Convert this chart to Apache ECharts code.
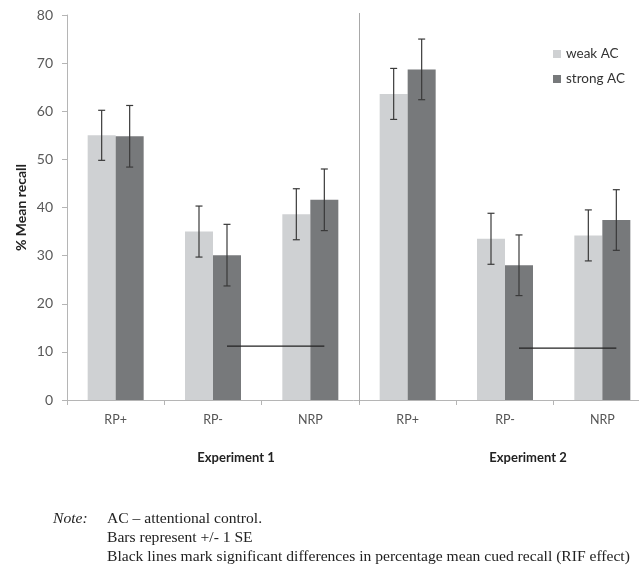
<!DOCTYPE html>
<html><head><meta charset="utf-8">
<script src="https://cdn.jsdelivr.net/npm/echarts@6/dist/echarts.min.js"></script>
<style>html,body{margin:0;padding:0;background:#fff}#c{width:639px;height:574px}</style>
</head><body><div id="c"></div>
<script>
const categories = ['RP+', 'RP-', 'NRP', 'RP+', 'RP-', 'NRP'];
const groups = ['Experiment 1', 'Experiment 2'];
const yTicks = [0, 10, 20, 30, 40, 50, 60, 70, 80];
const weakAC = [55.0, 35.0, 38.6, 63.6, 33.5, 34.2];
const strongAC = [54.8, 30.1, 41.6, 68.7, 28.0, 37.4];
const weakSE = [5.2, 5.3, 5.3, 5.3, 5.3, 5.3];
const strongSE = [6.4, 6.4, 6.4, 6.3, 6.3, 6.3];
// significance lines: [from category, to category, y]
const sigLines = [[1, 2, 11.2], [4, 5, 10.8]];
// divider between experiments: [left edge of this category index, bottom value, top value]
const dividers = [[3, 0, 80]];
const noteLines = ['AC \u2013 attentional control.', 'Bars represent +/- 1 SE',
  'Black lines mark significant differences in percentage mean cued recall (RIF effect)'];

const BAR_W = 28;
const chart = echarts.init(document.getElementById('c'));

function errData(vals, se) { return vals.map((v, i) => [i, v - se[i], v + se[i]]); }
function errRender(offset) {
  return function (params, api) {
    const lo = api.coord([api.value(0), api.value(1)]);
    const hi = api.coord([api.value(0), api.value(2)]);
    const x = lo[0] + offset;
    const cap = 3.5;
    const st = { stroke: '#3a3a3a', lineWidth: 1.2 };
    return { type: 'group', children: [
      { type: 'line', shape: { x1: x, y1: lo[1], x2: x, y2: hi[1] }, style: st },
      { type: 'line', shape: { x1: x - cap, y1: lo[1], x2: x + cap, y2: lo[1] }, style: st },
      { type: 'line', shape: { x1: x - cap, y1: hi[1], x2: x + cap, y2: hi[1] }, style: st }
    ]};
  };
}

const graphics = [{ type: 'text', left: 53, top: 511, style: { text: 'Note:', font: 'italic 15.6px "Liberation Serif"', fill: '#222' } }];
noteLines.forEach((t, i) => graphics.push({ type: 'text', left: 107, top: 511 + i * 19,
  style: { text: t, font: '15.6px "Liberation Serif"', fill: '#222' } }));

chart.setOption({
  animation: false,
  textStyle: { fontFamily: 'Lato' },
  grid: { left: 67, top: 15, width: 584, height: 385, containLabel: false, outerBoundsMode: 'none' },
  legend: {
    orient: 'vertical', left: 548, top: 42, itemWidth: 8, itemHeight: 8, itemGap: 11,
    icon: 'rect', textStyle: { fontSize: 13.5, color: '#333', fontFamily: 'Lato' },
    data: ['weak AC', 'strong AC']
  },
  xAxis: [{
    type: 'category', data: categories, position: 'bottom',
    axisLine: { lineStyle: { color: '#b5b5b5' } },
    axisTick: { show: true, length: 5, lineStyle: { color: '#b5b5b5' } },
    axisLabel: { color: '#555', fontSize: 12.5, margin: 13 },
    splitLine: { show: false }
  }, {
    type: 'category', data: groups, position: 'bottom', offset: 43,
    axisLine: { show: false }, axisTick: { show: false },
    axisLabel: { color: '#222', fontSize: 13, fontWeight: 'bold', padding: [0, 0, 0, 46] }
  }],
  yAxis: {
    type: 'value', min: 0, max: 80, interval: 10,
    name: '% Mean recall', nameLocation: 'middle', nameGap: 39, nameMoveOverlap: false,
    nameTextStyle: { fontSize: 14, fontWeight: 'bold', color: '#222' },
    axisLine: { show: true, lineStyle: { color: '#b5b5b5' } },
    axisTick: { show: true, length: 5, lineStyle: { color: '#b5b5b5' } },
    axisLabel: { color: '#595959', fontSize: 14, margin: 14,
      formatter: v => yTicks.includes(v) ? String(v) : '' },
    splitLine: { show: false }
  },
  series: [
    { name: 'weak AC', type: 'bar', data: weakAC, barWidth: BAR_W, barGap: '0%', itemStyle: { color: '#cfd1d3' } },
    { name: 'strong AC', type: 'bar', data: strongAC, barWidth: BAR_W, barGap: '0%', itemStyle: { color: '#77797b' } },
    { type: 'custom', data: errData(weakAC, weakSE), renderItem: errRender(-BAR_W / 2), z: 10 },
    { type: 'custom', data: errData(strongAC, strongSE), renderItem: errRender(BAR_W / 2), z: 10 },
    { type: 'custom', data: sigLines, z: 10, renderItem: function (params, api) {
        const a = api.coord([api.value(0), api.value(2)]);
        const b = api.coord([api.value(1), api.value(2)]);
        return { type: 'line', shape: { x1: a[0] + BAR_W / 2, y1: a[1], x2: b[0] + BAR_W / 2, y2: b[1] },
          style: { stroke: '#222', lineWidth: 1.3 } };
      } },
    { type: 'custom', data: dividers, z: 1, clip: false, renderItem: function (params, api) {
        const band = api.size([1, 0])[0];
        const top = api.coord([api.value(0), api.value(2)]);
        const bot = api.coord([api.value(0), api.value(1)]);
        const x = Math.round(top[0] - band / 2) + 0.5;
        return { type: 'line', shape: { x1: x, y1: top[1] - 2, x2: x, y2: bot[1] + 3 },
          style: { stroke: '#a8a8a8', lineWidth: 1 } };
      } }
  ],
  graphic: graphics
});
</script></body></html>
